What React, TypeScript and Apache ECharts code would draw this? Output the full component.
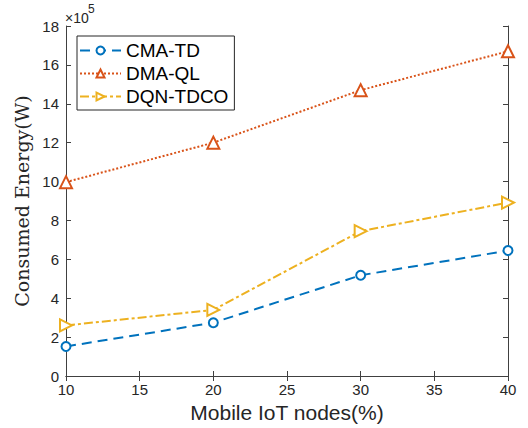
import React, { useEffect, useRef } from "react";
import * as echarts from "echarts";

const xValues = [10, 20, 30, 40];
const cmaTD = [1.52, 2.74, 5.18, 6.45];
const dmaQL = [9.97, 12.0, 14.7, 16.7];
const dqnTDCO = [2.6, 3.4, 7.45, 8.92];
const seriesNames = ["CMA-TD", "DMA-QL", "DQN-TDCO"];

const AX = "#404040";
const LBL = "#262626";

export default function App() {
  const ref = useRef<HTMLDivElement>(null);
  useEffect(() => {
    if (!ref.current) return;
    const chart = echarts.init(ref.current, null, { renderer: "svg" });
    const pair = (arr: number[]) => arr.map((v, i) => [xValues[i], v]);
    const axisCommon = {
      axisLine: { show: true, lineStyle: { color: AX, width: 1 } },
      axisTick: { show: true, inside: true, length: 5, lineStyle: { color: AX } },
      splitLine: { show: false },
    };
    chart.setOption({
      animation: false,
      backgroundColor: "#ffffff",
      grid: { left: 66, right: 20, top: 26, bottom: 52 },
      xAxis: [
        {
          type: "value",
          min: 10,
          max: 40,
          interval: 5,
          ...axisCommon,
          axisLabel: { color: LBL, fontSize: 15, margin: 6, fontFamily: "Liberation Sans" },
          name: "Mobile IoT nodes(%)",
          nameLocation: "middle",
          nameGap: 25,
          nameTextStyle: { color: LBL, fontSize: 21, fontFamily: "Liberation Sans" },
        },
        {
          type: "value",
          position: "top",
          min: 10,
          max: 40,
          interval: 5,
          ...axisCommon,
          axisLabel: { show: false },
        },
      ],
      yAxis: [
        {
          type: "value",
          min: 0,
          max: 18,
          interval: 2,
          ...axisCommon,
          axisLabel: { color: LBL, fontSize: 15, margin: 7, fontFamily: "Liberation Sans" },
          name: "Consumed Energy(W)",
          nameLocation: "middle",
          nameGap: 32,
          nameTextStyle: { color: LBL, fontSize: 19, fontFamily: "DejaVu Serif" },
        },
        {
          type: "value",
          position: "right",
          min: 0,
          max: 18,
          interval: 2,
          ...axisCommon,
          axisLabel: { show: false },
        },
      ],
      legend: {
        left: 77,
        top: 36,
        orient: "vertical",
        data: seriesNames,
        backgroundColor: "#ffffff",
        borderColor: "#262626",
        borderWidth: 1,
        borderRadius: 0,
        padding: [5, 6, 4, 2],
        itemGap: 4,
        itemWidth: 41,
        itemHeight: 10,
        textStyle: { color: "#000000", fontSize: 19, fontFamily: "Liberation Sans" },
      },
      graphic: [
        {
          type: "text",
          left: 65,
          top: 11,
          style: { text: "×10", fontSize: 14, fill: LBL, fontFamily: "Liberation Sans" },
        },
        {
          type: "text",
          left: 88,
          top: 3,
          style: { text: "5", fontSize: 12, fill: LBL, fontFamily: "Liberation Sans" },
        },
      ],
      series: [
        {
          name: seriesNames[0],
          type: "line",
          data: pair(cmaTD),
          symbol: "emptyCircle",
          symbolSize: 9,
          color: "#0072BD",
          lineStyle: { color: "#0072BD", width: 2, type: [10, 6] },
          itemStyle: { color: "#0072BD", borderWidth: 2 },
        },
        {
          name: seriesNames[1],
          type: "line",
          data: pair(dmaQL),
          symbol: "emptyTriangle",
          symbolSize: 12,
          color: "#D95319",
          lineStyle: { color: "#D95319", width: 2, type: [2, 2] },
          itemStyle: { color: "#D95319", borderWidth: 2 },
        },
        {
          name: seriesNames[2],
          type: "line",
          data: pair(dqnTDCO),
          symbol: "emptyTriangle",
          symbolRotate: -90,
          symbolSize: 12,
          color: "#EDB120",
          lineStyle: { color: "#EDB120", width: 2, type: [9, 3, 3, 3] },
          itemStyle: { color: "#EDB120", borderWidth: 2 },
        },
      ],
    });
    return () => chart.dispose();
  }, []);
  return (
    <div
      ref={ref}
      style={{ position: "fixed", left: 0, top: 0, width: 528, height: 428 }}
    />
  );
}
